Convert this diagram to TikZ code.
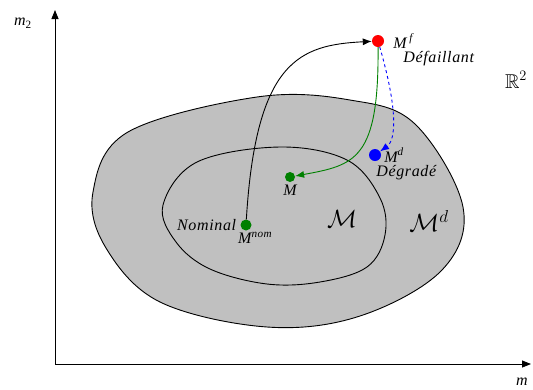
\documentclass[tikz,border=0pt]{standalone}
\usepackage{fontspec}
\setmainfont{Liberation Serif}
\usepackage{amsmath,amssymb}
\usetikzlibrary{arrows.meta,positioning}
\definecolor{RegionGray}{RGB}{192,192,192}
\definecolor{PathGreen}{RGB}{0,128,0}

\begin{document}
\begin{tikzpicture}[x=1pt,y=-1pt,
  dot/.style={circle,inner sep=0pt,minimum size=11pt},
  lbl/.style={inner sep=0pt,font=\fontsize{16}{18}\selectfont\itshape\addfontfeatures{LetterSpace=4}},
  setlbl/.style={inner sep=0pt,font=\fontsize{26}{28}\selectfont},
  region/.style={draw=black,line width=0.9pt},
  tip/.style={-{Latex[length=9pt,width=7pt]},line width=0.9pt}
]
  \useasboundingbox (0,0) rectangle (533,389);
  \coordinate (O) at (55,364);
  \coordinate (ytop) at (55,10);
  \coordinate (xend) at (531,364);
  \draw[-{Triangle[length=9pt,width=7pt]},line width=0.8pt] (O) -- (ytop);
  \draw[-{Triangle[length=9pt,width=7pt]},line width=0.8pt] (O) -- (xend);
  \node[lbl] (m2) at (23,23) {m\textsubscript{\upshape 2}};
  \node[lbl] (m1) at (522,382) {m};
  \node[inner sep=0pt,font=\fontsize{20}{22}\selectfont] (R2) at (516,80) {$\mathbb{R}^2$};

  \filldraw[region,fill=RegionGray] plot[smooth cycle,tension=0.6] coordinates
    {(93,192) (128,132) (257,97) (350,100) (415,124) (463,207) (442,270)
     (360,316) (267,327) (160,302) (106,248)};
  \draw[region] plot[smooth cycle,tension=0.6] coordinates
    {(163,205) (197,162) (280,147) (347,160) (380,198) (385,235) (367,267)
     (320,282) (267,284) (210,269) (176,242)};
  \node[setlbl] (Mset) at (342,219) {$\mathcal{M}$};
  \node[setlbl] (Mdset) at (429,221) {$\mathcal{M}^d$};

  \node[dot,fill=red,minimum size=12pt] (Mf) at (378,41) {};
  \node[dot,fill=blue,minimum size=12pt] (Md) at (375,155) {};
  \node[dot,fill=PathGreen,minimum size=10pt] (M) at (290,177) {};
  \node[dot,fill=PathGreen] (Mnom) at (246,225) {};

  \node[lbl,right=9pt of Mf] (Mflbl) {M\,\textsuperscript{f}};
  \node[lbl,below right=3pt and 10pt of Mflbl.south west] (dflt) {Défaillant};
  \node[lbl,right=3pt of Md] (Mdlbl) {M\textsuperscript{d}};
  \node[lbl,below right=3pt and -8pt of Mdlbl.south west] (dgrd) {Dégradé};
  \node[lbl,below=3pt of M] (Mlbl) {M};
  \node[lbl,left=4pt of Mnom] (nmnl) {Nominal};
  \node[lbl,below right=1pt and -8pt of Mnom.south] (Mnomlbl) {M\textsuperscript{nom}};

  \draw[tip] (Mnom) .. controls (256,60) and (300,45) .. (Mf);
  \draw[tip,PathGreen] (Mf) .. controls (379,160) and (355,165) .. (M);
  \draw[tip,blue,dashed] (Mf) .. controls (398,110) and (396,140) .. (Md);
\end{tikzpicture}
\end{document}
